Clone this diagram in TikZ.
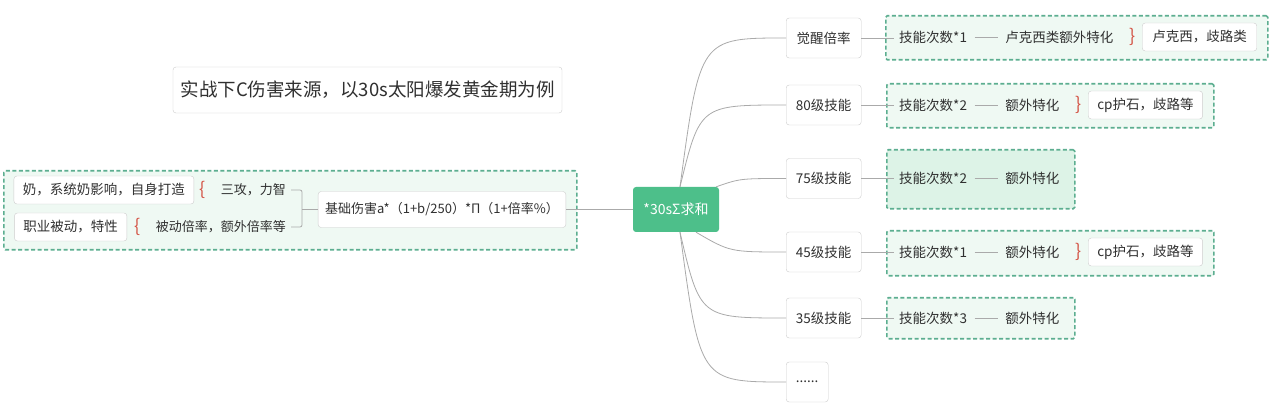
\documentclass[tikz,border=0pt]{standalone}
\usepackage{fontspec}
\setmainfont{Noto Sans CJK SC}
\usetikzlibrary{positioning,backgrounds}
\definecolor{mintline}{RGB}{92,174,144}
\definecolor{mintfill}{RGB}{239,249,243}
\definecolor{mintdeep}{RGB}{221,243,231}
\definecolor{rootgreen}{RGB}{77,191,138}
\definecolor{inkgrey}{RGB}{48,48,48}
\definecolor{edgegrey}{RGB}{205,205,205}
\definecolor{wiregrey}{RGB}{170,170,170}
\definecolor{bracered}{RGB}{212,86,72}

\begin{document}
\begin{tikzpicture}[x=1pt,y=-1pt, every node/.style={font=\fontsize{13.5}{15}\selectfont,text=inkgrey},
  topic/.style={draw=edgegrey,fill=white,rounded corners=3pt,minimum width=75pt,minimum height=40pt,anchor=west},
  leaf/.style={draw=edgegrey,fill=white,rounded corners=3pt,inner xsep=9pt,minimum height=28pt},
  word/.style={inner xsep=5pt,inner ysep=2pt},
  curl/.style={inner sep=0pt,text=bracered,font=\fontsize{18}{18}\selectfont},
  grp/.style={draw=mintline,fill=mintfill,line width=1.6pt,dash pattern=on 4pt off 2.5pt,rounded corners=1.5pt,
              anchor=north west,inner sep=0pt},
  root/.style={fill=rootgreen,text=white,rounded corners=3pt,minimum width=86pt,minimum height=45pt,font=\fontsize{14}{16}\selectfont},
  wire/.style={draw=wiregrey,line width=0.8pt}]
\fill[white] (0,0) rectangle (1271,419);
\useasboundingbox (0,0) rectangle (1271,419);

\node[grp,minimum width=573pt,minimum height=79pt] (gl) at (3,170) {};
\node[grp,minimum width=382pt,minimum height=44pt] (g1) at (885,15) {};
\node[grp,minimum width=327pt,minimum height=44pt] (g2) at (886,83) {};
\node[grp,minimum width=188pt,minimum height=59pt,fill=mintdeep] (g3) at (886,149) {};
\node[grp,minimum width=327pt,minimum height=45pt] (g4) at (886,230) {};
\node[grp,minimum width=188pt,minimum height=41pt] (g5) at (886,297) {};

\node[draw=edgegrey,fill=white,rounded corners=3pt,minimum width=389pt,minimum height=46pt,
  font=\fontsize{18.5}{20}\selectfont] (ttl) at (367.5,90) {实战下C伤害来源，以30s太阳爆发黄金期为例};

\node[root] (rt) at (676,209.5) {*30sΣ求和};

\node[leaf,minimum height=36pt,inner xsep=7pt,font=\fontsize{13}{15}\selectfont] (fml) at (442,209.5) {基础伤害a*（1+b/250）*Π（1+倍率\%）};
\node[word,anchor=east,font=\fontsize{13}{15}\selectfont] (t1) at (291,190) {三攻，力智};
\node[word,anchor=east,font=\fontsize{13}{15}\selectfont] (t2) at (291,227) {被动倍率，额外倍率等};
\node[curl,left=10pt of t1] (c1) {\{};
\node[leaf,left=5pt of c1] (n1) {奶，系统奶影响，自身打造};
\node[curl,left=10pt of t2] (c2) {\{};
\node[leaf,left=7pt of c2] (n2) {职业被动，特性};

\node[topic] (wake) at (786,38) {觉醒倍率};
\node[topic] (s80) at (786,105) {80级技能};
\node[topic] (s75) at (786,178.5) {75级技能};
\node[topic] (s45) at (786,252) {45级技能};
\node[topic] (s35) at (786,318) {35级技能};
\node[topic,minimum width=42pt] (more) at (786,382) {......};

\node[word,anchor=west] (k1) at (894,37) {技能次数*1};
\node[word,right=28pt of k1] (e1) {卢克西类额外特化};
\node[curl,right=11pt of e1] (c3) {\}};
\node[leaf,right=6pt of c3,inner xsep=10pt] (n3) {卢克西，歧路类};
\node[word,anchor=west] (k2) at (894,105) {技能次数*2};
\node[word,right=28pt of k2] (e2) {额外特化};
\node[curl,right=11pt of e2] (c4) {\}};
\node[leaf,right=6pt of c4] (n4) {cp护石，歧路等};
\node[word,anchor=west] (k3) at (894,178.5) {技能次数*2};
\node[word,right=28pt of k3] (e3) {额外特化};
\node[word,anchor=west] (k4) at (894,252) {技能次数*1};
\node[word,right=28pt of k4] (e4) {额外特化};
\node[curl,right=11pt of e4] (c5) {\}};
\node[leaf,right=6pt of c5] (n5) {cp护石，歧路等};
\node[word,anchor=west] (k5) at (894,318) {技能次数*3};
\node[word,right=28pt of k5] (e5) {额外特化};

\coordinate (bk) at (302,209.5);
\coordinate (cx) at (700,0);
\draw[wire,rounded corners=2pt] (t1.east) -| (bk) |- (t2.east);
\draw[wire] (bk) -- (fml.west);
\draw[wire] (rt.west) -- (fml.east);
\foreach \b in {wake,s80}
  \draw[wire] ([xshift=4pt]rt.north) .. controls (\b.west -| cx) .. (\b.west);
\draw[wire] ([xshift=-3pt]rt.north east) .. controls (740,178.5) .. (s75.west);
\draw[wire] ([xshift=20pt]rt.south) .. controls (730,252) .. (s45.west);
\foreach \b in {s35,more}
  \draw[wire] ([xshift=4pt]rt.south) .. controls (\b.west -| cx) .. (\b.west);
\foreach \a/\b in {wake/k1,s80/k2,s75/k3,s45/k4,s35/k5}
  \draw[wire] (\a.east) -- (\a.east -| \b.west);
\foreach \a/\b in {k1/e1,k2/e2,k3/e3,k4/e4,k5/e5}
  \draw[wire,shorten <=2.5pt,shorten >=2.5pt] (\a) -- (\b);
\end{tikzpicture}
\end{document}
